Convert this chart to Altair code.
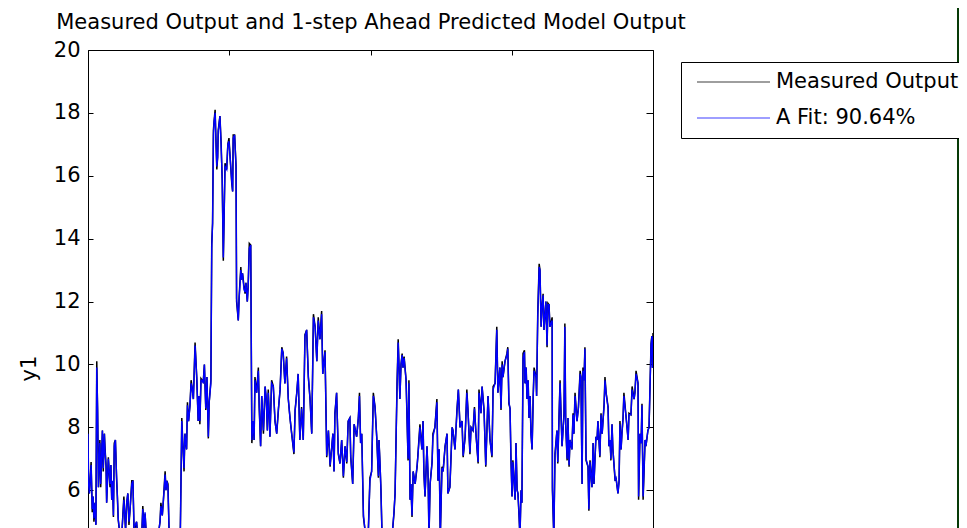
import altair as alt
import pandas as pd

# sample index of each read point
t = [0,2,5,11,15,18,21,25,28,31,34,37,42,45,51,54,58,60,64,66,72,78,81,84,87,90,93,97,101,104,107,113,119,127,133,137,141,145,149,155,159,163,172,177,184,190,194,198,202,208,219,230,241,249,255,258,263,267,273,276,279,283,287,297,308,319,326,332,336,340,343,349,352,356,361,365,368,373,379,385,390,393,396,400,404,408,412,417,421,426,429,435,438,441,444,446,450,453,456,459,461,467,471,475,479,483,485,491,495,499,503,509,512,514,519,524,526,532,535,541,543,547,552,556,559,564,567,571,576,580,585,588,591,597,603,606,611,615,621,627,631,635,638,642,644,650,656,662,668,674,680,686,691,697,703,709,715,721,729,733,739,744,750,756,762,768,774,780,786,792,798,804,810,815,821,827,831,839,843,845,851,857,863,867,871,874,880,886,892,898,904,910,916,921,927,930,937,942,951,957,961,965,969,975,981,988,992,998,1004,1010,1016,1022,1028,1030,1034,1037,1041,1048,1058,1069,1076,1083,1087,1094,1098,1101,1104,1108,1112,1115,1119,1126,1133,1136,1140,1143,1147,1151,1158,1165,1168,1175,1182,1186,1189,1193,1200,1204,1207,1211,1218,1221,1228,1235,1239,1243,1247,1253,1257,1264,1271,1274,1281,1289,1292,1299,1306,1311,1317,1324,1328,1335,1341,1345,1352,1356,1363,1368,1374,1381,1384,1391,1395,1402,1408,1416,1420,1423,1430,1434,1441,1447,1451,1458,1462,1466,1469,1476,1483,1486,1490,1494,1497,1501,1504,1512,1515,1519,1522,1526,1529,1533,1536,1540,1545,1547,1551,1554,1558,1561,1565,1568,1572,1576,1579,1586,1588,1592,1597,1600,1604,1607,1611,1614,1621,1625,1628,1632,1635,1643,1644,1649,1653,1660,1663,1667,1671,1674,1678,1685,1688,1691,1696,1699,1703,1706,1713,1717,1720,1724,1731,1736,1742,1745,1747,1749,1752,1756,1759,1763,1770,1773,1777,1784,1788,1791,1798,1802,1805,1812,1816,1820,1827,1830,1834,1841,1844,1848,1851,1855,1858,1866,1869,1876,1880,1883,1887,1890,1894,1897,1905,1912,1915,1922,1926,1933,1936,1940,1947,1949,1954,1958,1961,1965,1972,1975,1982,1986,1993,1996,1998,2000]

measured = [7.9,6.1,5.9,6.9,5.3,5.8,5.0,5.6,4.9,10.1,8.5,6.1,7.6,6.1,7.9,6.6,7.8,7.4,6.75,5.6,7.05,6.1,6.8,5.7,6.2,5.15,7.5,7.6,6.4,5.8,5.05,4.6,4.5,5.8,4.7,5.6,5.9,4.9,5.4,6.3,6.3,4.7,5.0,4.4,4.2,4.5,5.5,4.8,5.25,4.3,4.0,4.4,4.1,4.6,5.0,5.6,5.2,5.7,6.6,6.0,6.3,6.2,4.7,4.2,4.0,4.3,4.1,8.3,7.4,6.6,7.8,7.3,8.8,8.2,8.7,9.5,9.3,8.9,10.7,9.55,8.2,9.0,8.1,9.55,9.5,9.45,10.0,8.55,9.6,7.65,8.8,9.5,13.85,14.5,17.45,17.7,18.1,17.1,16.2,16.6,17.45,17.9,17.1,15.9,13.3,15.3,16.4,16.2,17.0,17.2,16.6,15.75,15.5,17.3,17.3,16.3,12.0,11.4,12.15,13.1,12.7,12.9,12.5,12.25,12.6,12.0,12.5,13.85,13.8,7.5,8.2,7.6,9.6,9.1,9.9,8.65,7.4,9.0,7.8,9.3,8.9,7.9,9.2,8.3,7.7,9.5,9.3,8.2,7.8,8.55,9.2,10.55,10.35,9.4,10.25,8.9,8.3,7.8,7.15,8.55,9.1,9.7,7.6,8.65,7.6,10.95,11.1,9.6,8.9,7.8,11.6,11.2,10.1,11.5,10.8,11.7,9.7,10.45,8.2,7.05,7.9,6.75,7.4,7.8,6.6,8.45,9.1,7.15,6.85,7.6,6.4,7.4,6.85,8.2,8.3,7.05,6.2,8.1,7.7,8.3,9.1,7.5,7.8,5.15,4.7,4.4,4.6,6.4,6.6,9.1,8.65,7.7,6.4,7.6,6.75,6.0,4.5,4.2,4.0,4.3,4.5,5.25,5.9,9.4,10.8,9.9,8.9,10.0,10.35,9.9,10.25,9.5,6.95,9.5,5.7,6.2,5.15,6.6,6.2,6.75,7.15,8.1,7.3,8.2,6.55,5.8,7.4,6.4,4.5,6.2,6.9,7.8,8.0,8.9,6.3,7.3,4.5,6.75,6.6,7.4,7.8,5.9,6.1,8.0,7.9,7.3,8.55,9.2,8.0,8.2,7.05,7.7,9.2,8.55,7.15,8.0,7.9,8.65,7.7,6.85,9.2,8.45,9.3,8.55,6.75,9.0,8.2,7.6,7.05,9.3,9.4,11.2,9.1,9.9,8.55,10.1,9.6,10.1,10.35,10.55,8.75,8.6,7.05,5.8,6.95,5.7,7.5,6.0,5.9,5.15,4.5,6.0,5.6,10.35,10.45,9.4,9.9,8.9,9.5,8.3,9.0,7.8,7.3,9.0,9.9,9.6,9.0,11.6,13.2,13.0,11.2,11.8,12.25,11.1,12.0,10.55,11.95,11.9,11.2,11.5,6.0,4.5,7.15,7.9,6.85,8.2,9.5,8.55,7.4,8.45,11.3,8.1,6.95,8.3,6.75,7.6,7.3,8.45,7.8,9.1,8.2,8.65,9.8,9.6,7.8,6.2,9.9,9.5,10.55,6.95,6.75,5.35,6.95,6.1,7.5,6.2,7.7,7.6,8.2,7.05,8.45,7.8,8.75,9.6,9.1,8.65,7.4,7.6,6.95,8.1,7.3,6.3,6.4,5.9,6.3,8.2,7.3,7.8,8.3,9.1,8.3,7.6,8.45,8.4,9.3,8.9,9.1,9.8,9.4,5.7,7.8,7.5,8.75,5.7,7.6,7.4,7.9,8.0,10.65,10.9,9.9,11.0]

predicted = [7.8,6.2,5.9,6.8,5.4,5.8,5.1,5.6,4.9,9.9,8.6,6.1,7.5,6.2,7.9,6.7,7.8,7.3,6.8,5.6,7.0,6.2,6.8,5.7,6.3,5.2,7.4,7.6,6.5,5.8,5.1,4.6,4.5,5.7,4.8,5.6,5.9,5.0,5.4,6.2,6.3,4.8,5.0,4.4,4.3,4.5,5.4,4.8,5.3,4.3,4.0,4.4,4.2,4.6,5.0,5.5,5.2,5.7,6.5,6.0,6.3,6.1,4.7,4.2,4.1,4.3,4.1,8.2,7.4,6.7,7.8,7.3,8.7,8.2,8.7,9.4,9.3,8.9,10.6,9.6,8.2,9.0,8.2,9.5,9.5,9.4,10.0,8.6,9.6,7.7,8.8,9.4,13.7,14.5,17.3,17.7,18.0,17.1,16.3,16.6,17.4,17.9,17.0,15.9,13.4,15.3,16.3,16.2,17.0,17.1,16.6,15.8,15.5,17.2,17.3,16.3,12.1,11.4,12.1,13.0,12.7,12.9,12.4,12.3,12.6,12.0,12.5,13.7,13.8,7.6,8.2,7.6,9.5,9.1,9.8,8.7,7.4,9.0,7.9,9.3,8.9,7.9,9.1,8.3,7.7,9.4,9.3,8.2,7.8,8.6,9.2,10.5,10.35,9.4,10.2,8.9,8.3,7.8,7.2,8.5,9.1,9.7,7.6,8.6,7.6,10.9,11.1,9.6,8.9,7.8,11.5,11.2,10.1,11.4,10.8,11.6,9.7,10.4,8.2,7.1,7.9,6.8,7.4,7.8,6.6,8.4,9.1,7.2,6.85,7.6,6.45,7.4,6.9,8.2,8.3,7.1,6.2,8.1,7.7,8.3,9.0,7.5,7.8,5.2,4.7,4.4,4.6,6.3,6.6,9.0,8.65,7.7,6.45,7.6,6.8,6.0,4.5,4.2,4.0,4.3,4.5,5.3,5.9,9.3,10.7,9.9,8.9,10.0,10.3,9.9,10.2,9.5,7.0,9.4,5.7,6.2,5.2,6.6,6.2,6.8,7.1,8.0,7.3,8.2,6.6,5.8,7.4,6.4,4.5,6.2,6.9,7.7,8.0,8.8,6.3,7.3,4.5,6.7,6.6,7.4,7.8,5.9,6.1,8.0,7.9,7.3,8.5,9.2,8.0,8.2,7.1,7.7,9.1,8.55,7.2,8.0,7.9,8.6,7.7,6.9,9.1,8.45,9.3,8.5,6.8,9.0,8.2,7.6,7.1,9.2,9.4,11.1,9.1,9.9,8.6,10.0,9.6,10.1,10.3,10.5,8.8,8.6,7.1,5.8,6.9,5.7,7.5,6.0,5.9,5.2,4.5,6.0,5.6,10.2,10.4,9.4,9.9,8.9,9.5,8.3,9.0,7.8,7.3,9.0,9.8,9.6,9.0,11.5,13.1,13.0,11.2,11.8,12.2,11.1,12.0,10.6,11.9,11.9,11.2,11.4,6.1,4.5,7.1,7.9,6.9,8.2,9.4,8.55,7.4,8.4,11.2,8.1,7.0,8.3,6.8,7.6,7.3,8.4,7.8,9.0,8.2,8.6,9.7,9.6,7.8,6.2,9.8,9.5,10.5,7.0,6.75,5.4,6.9,6.1,7.5,6.2,7.7,7.6,8.2,7.1,8.4,7.8,8.7,9.5,9.1,8.6,7.4,7.6,7.0,8.1,7.3,6.35,6.4,5.9,6.3,8.1,7.3,7.8,8.3,9.0,8.3,7.6,8.4,8.4,9.2,8.9,9.1,9.7,9.4,5.8,7.8,7.5,8.7,5.8,7.6,7.4,7.9,8.0,10.6,10.9,9.9,10.9]

series_names = ["Measured Output", "A Fit: 90.64%"]
series_colors = ["#000000", "#0000ff"]
y_ticks = [6, 8, 10, 12, 14, 16, 18, 20]
x_ticks = [0, 500, 1000, 1500, 2000]
title_text = "Measured Output and 1-step Ahead Predicted Model Output"

FONT = "DejaVu Sans"
FS = 21

df_m = pd.DataFrame({"t": t, "y": measured, "series": series_names[0]})
df_p = pd.DataFrame({"t": t, "y": predicted, "series": series_names[1]})

xscale = alt.Scale(domain=[0, 2000], nice=False, zero=False)
yscale = alt.Scale(domain=[4.8, 20], nice=False, zero=False)

color = alt.Color(
    "series:N",
    scale=alt.Scale(domain=series_names, range=series_colors),
    legend=alt.Legend(
        title=None, orient="none", legendX=593, legendY=12,
        symbolType="stroke", symbolSize=5329, symbolStrokeWidth=1.5,
        symbolOpacity=0.5, clipHeight=21, rowPadding=14, padding=9.5,
        symbolOffset=5.5, labelOffset=5, labelFont=FONT, labelFontSize=FS,
        labelColor="black", labelLimit=500, strokeColor="black",
        fillColor="white",
    ),
)

# top frame line carries the chart title, placed explicitly above the plot
ax_top_frame = alt.Axis(orient="top", labels=False, ticks=False, domain=True,
                        grid=False, domainColor="black",
                        title=title_text, titleX=282.5, titleY=-21.7,
                        titleAlign="center", titleBaseline="alphabetic",
                        titleAngle=0, titleFont=FONT, titleFontSize=FS,
                        titleFontWeight="normal", titleColor="black")
ax_top_ticks = alt.Axis(orient="top", values=x_ticks, labels=False, ticks=True,
                        tickSize=5, offset=-5, domain=False, grid=False,
                        title=None, tickColor="black")
ax_left = alt.Axis(orient="left", values=y_ticks, ticks=False, tickSize=0,
                   labelPadding=8, domain=True, domainColor="black", grid=False,
                   title="y1", titleX=-53, titleY=318, titleAngle=270,
                   titleBaseline="alphabetic", titleAlign="center",
                   titleFont=FONT, titleFontSize=FS, titleFontWeight="normal",
                   titleColor="black", labelFont=FONT, labelFontSize=FS,
                   labelColor="black")
ax_left_ticks = alt.Axis(orient="left", values=y_ticks, labels=False, ticks=True,
                         tickSize=5, offset=-5, domain=False, grid=False,
                         title=None, tickColor="black")
ax_right_frame = alt.Axis(orient="right", labels=False, ticks=False, domain=True,
                          grid=False, title=None, domainColor="black")
ax_right_ticks = alt.Axis(orient="right", values=y_ticks, labels=False, ticks=True,
                          tickSize=7, offset=-7, domain=False, grid=False,
                          title=None, tickColor="black")

measured_line = alt.Chart(df_m).mark_line(strokeWidth=1.5, clip=True).encode(
    x=alt.X("t:Q", scale=xscale, axis=ax_top_frame),
    y=alt.Y("y:Q", scale=yscale, axis=ax_left),
    color=color,
)
predicted_line = alt.Chart(df_p).mark_line(strokeWidth=1.4, clip=True).encode(
    x=alt.X("t:Q", scale=xscale, axis=ax_top_ticks),
    y=alt.Y("y:Q", scale=yscale, axis=ax_left_ticks),
    color=color,
)
right_frame = alt.Chart(df_m).mark_line(strokeOpacity=0, clip=True).encode(
    x=alt.X("t:Q", scale=xscale, axis=None),
    y=alt.Y("y:Q", scale=yscale, axis=ax_right_frame),
)
right_ticks = alt.Chart(df_m).mark_line(strokeOpacity=0, clip=True).encode(
    x=alt.X("t:Q", scale=xscale, axis=None),
    y=alt.Y("y:Q", scale=yscale, axis=ax_right_ticks),
)
# dark window edge at the right of the reference picture
border_strip = alt.Chart(alt.Data(values=[{}])).mark_rect(color="#063a06").encode(
    x=alt.value(869), x2=alt.value(875), y=alt.value(-42), y2=alt.value(478)
)

chart = (
    alt.layer(measured_line, predicted_line, right_frame, right_ticks, border_strip)
    .resolve_axis(x="independent", y="independent")
    .properties(
        width=565, height=478,
        autosize=alt.AutoSizeParams(type="none"),
        padding={"left": 80, "top": 42, "right": 306, "bottom": 0},
        background="white",
    )
    .configure_view(stroke=None)
)

chart.save("out.html", embed_options={"renderer": "svg", "actions": False})
